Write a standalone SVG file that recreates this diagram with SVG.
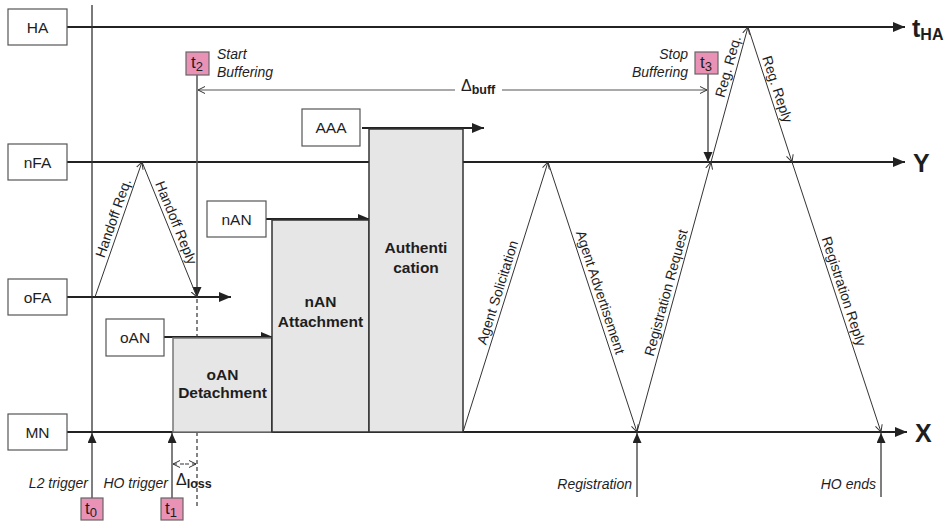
<svg xmlns="http://www.w3.org/2000/svg" width="944" height="521" viewBox="0 0 944 521">
<style>
text{font-family:"Liberation Sans",Arial,sans-serif;fill:#1e1e1e}
.box{fill:#fff;stroke:#555;stroke-width:1.2}
.pink{fill:#e992b6;stroke:#666;stroke-width:1.2}
.gray{fill:#e6e6e6;stroke:#333;stroke-width:1.5}
.tl{stroke:#222;stroke-width:2;fill:none}
.thin{stroke:#333;stroke-width:1;fill:none}
.vl{stroke:#555;stroke-width:1.5;fill:none}
.dash{stroke:#333;stroke-width:1.2;stroke-dasharray:4,3;fill:none}
.nm{font-size:15.5px;text-anchor:middle}
.it{font-size:14px;font-style:italic}
.msg{font-size:14px;text-anchor:middle}
.bd{font-size:15.5px;font-weight:bold;text-anchor:middle}
.ax{font-size:25px;font-weight:bold}
.tt{font-size:17px;text-anchor:middle}
</style>
<defs>
<marker id="fa" markerUnits="userSpaceOnUse" markerWidth="13" markerHeight="11" refX="12" refY="5" orient="auto"><path d="M0,0 L12,5 L0,10 z" fill="#222"/></marker>
<marker id="fs" markerUnits="userSpaceOnUse" markerWidth="11" markerHeight="10" refX="10" refY="4.5" orient="auto"><path d="M0,0 L10,4.5 L0,9 z" fill="#222"/></marker>
<marker id="ch" markerUnits="userSpaceOnUse" markerWidth="8" markerHeight="8" refX="7" refY="4" orient="auto"><path d="M0,0.5 L7,4 L0,7.5" fill="none" stroke="#333" stroke-width="1"/></marker>
</defs>

<g id="connectors">
<line class="tl" x1="67" y1="27" x2="905" y2="27" marker-end="url(#fa)"/>
<line class="tl" x1="67" y1="162" x2="905" y2="162" marker-end="url(#fa)"/>
<line class="tl" x1="67" y1="432" x2="907" y2="432" marker-end="url(#fa)"/>
<line class="tl" x1="67" y1="297" x2="231" y2="297" marker-end="url(#fa)"/>
<line class="tl" x1="164" y1="337" x2="273" y2="337" marker-end="url(#fa)"/>
<line class="tl" x1="266" y1="219" x2="370" y2="219" marker-end="url(#fa)"/>
<line class="tl" x1="362" y1="128" x2="484" y2="128" marker-end="url(#fa)"/>
<line class="thin" x1="92" y1="5" x2="92" y2="432" style="stroke-width:1.3"/>
<line class="vl" x1="92" y1="498" x2="92" y2="433" marker-end="url(#fs)"/>
<line class="vl" x1="172" y1="498" x2="172" y2="433" marker-end="url(#fs)"/>
<line class="vl" x1="637" y1="497" x2="637" y2="433" marker-end="url(#fs)"/>
<line class="vl" x1="881" y1="497" x2="881" y2="433" marker-end="url(#fs)"/>
<line class="vl" x1="197" y1="75" x2="197" y2="297" marker-end="url(#fs)"/>
<line class="vl" x1="708" y1="74" x2="708" y2="162" marker-end="url(#fs)"/>
<line class="vl" x1="455" y1="90" x2="198" y2="90" style="stroke-width:1.2" marker-end="url(#ch)"/>
<line class="vl" x1="502" y1="90" x2="707" y2="90" style="stroke-width:1.2" marker-end="url(#ch)"/>
<line class="dash" x1="197" y1="299" x2="197" y2="506"/>
<line class="dash" x1="184" y1="464" x2="173" y2="464" marker-end="url(#ch)"/>
<line class="dash" x1="185" y1="464" x2="196" y2="464" marker-end="url(#ch)"/>
<line class="thin" x1="95" y1="297" x2="142" y2="162" marker-end="url(#ch)"/>
<line class="thin" x1="142" y1="162" x2="197" y2="297" marker-end="url(#ch)"/>
<line class="thin" x1="463" y1="432" x2="548" y2="162" marker-end="url(#ch)"/>
<line class="thin" x1="548" y1="162" x2="637" y2="432" marker-end="url(#ch)"/>
<line class="thin" x1="637" y1="432" x2="711" y2="162" marker-end="url(#ch)"/>
<line class="thin" x1="711" y1="162" x2="748" y2="27" marker-end="url(#ch)"/>
<line class="thin" x1="748" y1="27" x2="792" y2="162" marker-end="url(#ch)"/>
<line class="thin" x1="792" y1="162" x2="881" y2="432" marker-end="url(#ch)"/>
</g>

<g id="msg-labels">
<text class="msg" transform="translate(121.5,221) rotate(-70.8)" y="-4">Handoff Req.</text>
<text class="msg" transform="translate(168,226) rotate(67.8)" y="-4">Handoff Reply</text>
<text class="msg" transform="translate(506,295) rotate(-72.5)" y="-4">Agent Solicitation</text>
<text class="msg" transform="translate(592,295) rotate(71.8)" y="-4">Agent Advertisement</text>
<text class="msg" transform="translate(674.5,295) rotate(-74.7)" y="-4">Registration Request</text>
<text class="msg" transform="translate(736.5,69) rotate(-74.7)" y="-4">Reg. Req.</text>
<text class="msg" transform="translate(769,92) rotate(71.9)" y="-4">Reg. Reply</text>
<text class="msg" transform="translate(835.5,294) rotate(71.8)" y="-4">Registration Reply</text>
</g>

<g id="HA"><rect class="box" x="8" y="9" width="59" height="36"/><text class="nm" x="37.5" y="32.5">HA</text></g>
<g id="nFA"><rect class="box" x="8" y="144" width="59" height="36"/><text class="nm" x="37.5" y="167.5">nFA</text></g>
<g id="oFA"><rect class="box" x="8" y="279" width="59" height="36"/><text class="nm" x="37.5" y="302.5">oFA</text></g>
<g id="MN"><rect class="box" x="8" y="414" width="59" height="36"/><text class="nm" x="37.5" y="437.5">MN</text></g>
<g id="oAN"><rect class="box" x="106" y="319" width="58" height="37"/><text class="nm" x="135" y="343">oAN</text></g>
<g id="nAN"><rect class="box" x="207" y="201" width="59" height="36"/><text class="nm" x="236.5" y="224.5">nAN</text></g>
<g id="AAA"><rect class="box" x="302" y="109" width="58" height="37"/><text class="nm" x="331" y="133">AAA</text></g>

<g id="oAN-detachment"><rect class="gray" x="173" y="338" width="99" height="94" style="stroke:#777"/><line x1="272" y1="338" x2="272" y2="432" stroke="#222" stroke-width="1.5"/><text class="bd" x="222.5" y="380">oAN</text><text class="bd" x="222.5" y="398">Detachment</text></g>
<g id="nAN-attachment"><rect class="gray" x="272" y="220" width="97" height="212"/><text class="bd" x="320.5" y="307">nAN</text><text class="bd" x="320.5" y="327">Attachment</text></g>
<g id="authentication"><rect class="gray" x="369" y="129" width="94" height="303"/><text class="bd" x="416" y="253">Authenti</text><text class="bd" x="416" y="273">cation</text></g>

<g id="t0"><rect class="pink" x="81" y="498" width="22" height="22"/><text class="tt" x="91" y="514">t<tspan font-size="13" dy="3">0</tspan></text></g>
<g id="t1"><rect class="pink" x="161" y="498" width="22" height="22"/><text class="tt" x="171" y="514">t<tspan font-size="13" dy="3">1</tspan></text></g>
<g id="t2"><rect class="pink" x="186" y="52" width="23" height="23"/><text class="tt" x="197" y="68">t<tspan font-size="13" dy="3">2</tspan></text></g>
<g id="t3"><rect class="pink" x="695" y="52" width="23" height="22"/><text class="tt" x="706" y="68">t<tspan font-size="13" dy="3">3</tspan></text></g>

<g id="annotations">
<text class="it" x="217" y="59">Start</text>
<text class="it" x="217" y="77">Buffering</text>
<text class="it" x="688" y="59" text-anchor="end">Stop</text>
<text class="it" x="688" y="77" text-anchor="end">Buffering</text>
<text class="it" x="88" y="488" text-anchor="end">L2 trigger</text>
<text class="it" x="168" y="488" text-anchor="end">HO trigger</text>
<text class="it" x="632" y="489" text-anchor="end">Registration</text>
<text class="it" x="876" y="489" text-anchor="end">HO ends</text>
<text x="461" y="91" font-size="16">Δ<tspan font-size="12.5" font-weight="bold" dy="3">buff</tspan></text>
<text x="176" y="485" font-size="16">Δ<tspan font-size="12.5" font-weight="bold" dy="3">loss</tspan></text>
<text class="ax" x="912" y="37">t<tspan font-size="16" dy="3">HA</tspan></text>
<text class="ax" x="913" y="172">Y</text>
<text class="ax" x="915" y="442">X</text>
</g>
</svg>
